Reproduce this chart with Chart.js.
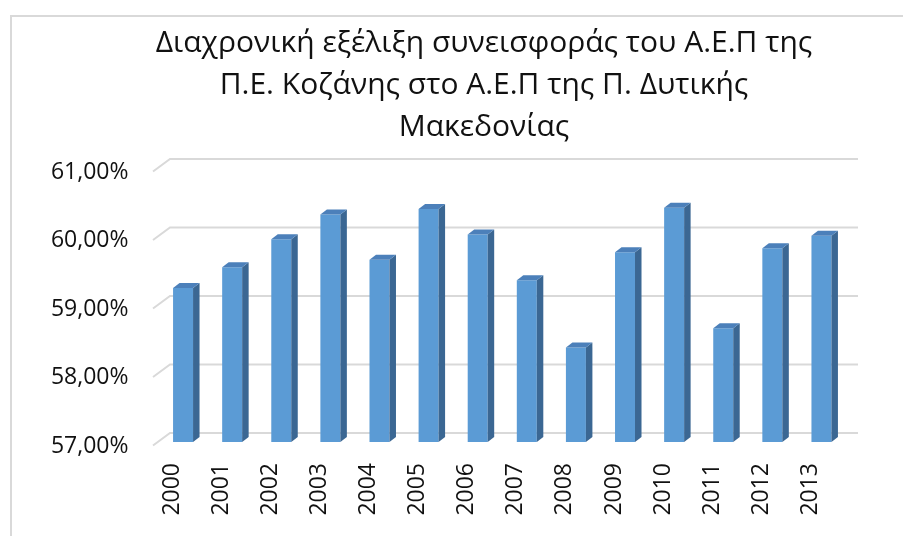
<!DOCTYPE html>
<html>
<head>
<meta charset="utf-8">
<script src="https://cdn.jsdelivr.net/npm/chart.js@4"></script>
<style>
  html, body { margin: 0; padding: 0; background: #ffffff; }
  #campo { width: 903px; height: 536px; }
</style>
</head>
<body>
<div id="campo"><canvas id="grafico"></canvas></div>
<script>
/* ===== DADOS ===== */

const titulo = [
  'Διαχρονική εξέλιξη συνεισφοράς του Α.Ε.Π της',
  'Π.Ε. Κοζάνης στο Α.Ε.Π της Π. Δυτικής',
  'Μακεδονίας'
];

const anos = ['2000', '2001', '2002', '2003', '2004', '2005', '2006',
              '2007', '2008', '2009', '2010', '2011', '2012', '2013'];

// συνεισφορά (%)
const valores = [59.25, 59.55, 59.96, 60.32, 59.66, 60.40, 60.03,
                 59.36, 58.38, 59.77, 60.42, 58.66, 59.83, 60.01];

const eixoMin = 57;
const eixoMax = 61;
const eixoPasso = 1;

/* ===== CORES ===== */

const corFrente = '#5B9BD5';
const corLado = '#3B6793';
const corTopo = '#4C80BA';
const corGrade = '#D9D9D9';
const corTexto = '#111111';
const fonte = "'Open Sans', sans-serif";

// profundidade do efeito 3D
const profBarra = { dx: 6.5, dy: -5 };

/* ===== PLUGINS ===== */

// moldura cinza do gráfico
const moldura = {
  id: 'moldura',
  beforeDraw(chart) {
    const ctx = chart.ctx;
    ctx.save();
    ctx.strokeStyle = corGrade;
    ctx.lineWidth = 2;
    ctx.beginPath();
    ctx.moveTo(11, chart.height + 5);
    ctx.lineTo(11, 16);
    ctx.lineTo(chart.width + 5, 16);
    ctx.stroke();
    ctx.restore();
  }
};

// título em três linhas (centrado um pouco à direita, como no original)
const tituloTopo = {
  id: 'tituloTopo',
  afterDraw(chart) {
    const ctx = chart.ctx;
    ctx.save();
    ctx.fillStyle = corTexto;
    ctx.font = "30px 'Open Sans', sans-serif";
    ctx.textAlign = 'center';
    ctx.textBaseline = 'middle';
    titulo.forEach((linha, i) => {
      ctx.fillText(linha, 484, 43 + i * 42);
    });
    ctx.restore();
  }
};

// linhas de grade na parede de fundo + traço diagonal
const gradeFundo = {
  id: 'gradeFundo',
  beforeDatasetsDraw(chart) {
    const { ctx, chartArea, scales } = chart;
    const y = scales.y;
    ctx.save();
    ctx.strokeStyle = corGrade;
    ctx.lineWidth = 2;
    y.ticks.forEach(t => {
      const py = y.getPixelForValue(t.value);
      ctx.beginPath();
      ctx.moveTo(chartArea.left - 5.5, py + 3.5);
      ctx.lineTo(chartArea.left + 11.5, py - 9);
      ctx.lineTo(chartArea.right + 12, py - 9);
      ctx.stroke();
    });
    ctx.restore();
  }
};

// lateral e topo das colunas
const colunas3d = {
  id: 'colunas3d',
  afterDatasetsDraw(chart) {
    const ctx = chart.ctx;
    const { dx, dy } = profBarra;
    ctx.save();
    chart.getDatasetMeta(0).data.forEach(bar => {
      const esq = bar.x - bar.width / 2;
      const dir = bar.x + bar.width / 2;
      const topo = bar.y;
      const base = Math.min(bar.base, chart.chartArea.bottom);

      ctx.fillStyle = corLado;
      ctx.beginPath();
      ctx.moveTo(dir, topo);
      ctx.lineTo(dir + dx, topo + dy);
      ctx.lineTo(dir + dx, base + dy);
      ctx.lineTo(dir, base);
      ctx.closePath();
      ctx.fill();

      ctx.fillStyle = corTopo;
      ctx.beginPath();
      ctx.moveTo(esq, topo);
      ctx.lineTo(esq + dx, topo + dy);
      ctx.lineTo(dir + dx, topo + dy);
      ctx.lineTo(dir, topo);
      ctx.closePath();
      ctx.fill();
    });
    ctx.restore();
  }
};

/* ===== GRÁFICO ===== */

new Chart(document.getElementById('grafico'), {
  type: 'bar',
  data: {
    labels: anos,
    datasets: [{
      data: valores,
      backgroundColor: corFrente,
      borderWidth: 0,
      categoryPercentage: 1,
      barPercentage: 0.407
    }]
  },
  options: {
    responsive: true,
    maintainAspectRatio: false,
    animation: false,
    devicePixelRatio: 1,
    layout: {
      padding: { left: 0, right: 57, top: 168, bottom: 0 }
    },
    plugins: {
      legend: { display: false },
      tooltip: { enabled: false },
      title: { display: false }
    },
    scales: {
      x: {
        grid: { display: false, drawTicks: false },
        border: { display: false },
        ticks: {
          color: corTexto,
          font: { family: fonte, size: 23 },
          minRotation: 90,
          maxRotation: 90,
          padding: 21,
          labelOffset: -11
        },
        afterFit(scale) { scale.height = 94; }
      },
      y: {
        min: eixoMin,
        max: eixoMax,
        grid: { display: false, drawTicks: false },
        border: { display: false },
        ticks: {
          stepSize: eixoPasso,
          color: corTexto,
          font: { family: fonte, size: 23 },
          padding: 30,
          labelOffset: 4,
          callback: v => v.toFixed(2).replace('.', ',') + '%'
        },
        afterFit(scale) { scale.width = 158.5; }
      }
    }
  },
  plugins: [moldura, gradeFundo, colunas3d, tituloTopo]
});
</script>
</body>
</html>
